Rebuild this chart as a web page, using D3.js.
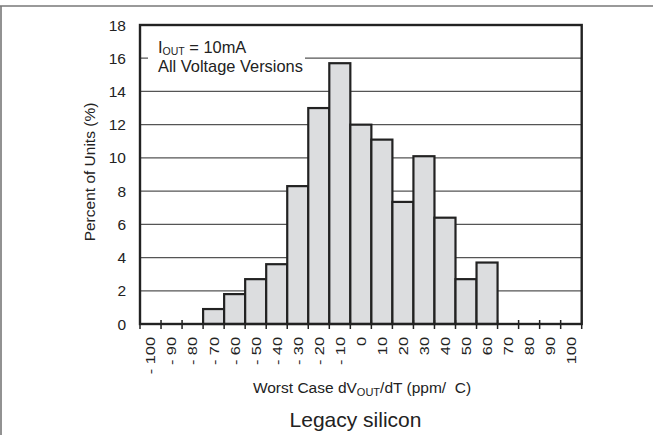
<!DOCTYPE html>
<html>
<head>
<meta charset="utf-8">
<script src="https://cdn.jsdelivr.net/npm/d3@7/dist/d3.min.js"></script>
<style>
html,body{margin:0;padding:0;background:#fff;}
svg{display:block;}
text{font-family:"Liberation Sans",Arial,Helvetica,sans-serif;fill:#222;}
</style>
</head>
<body>
<svg id="chart" width="653" height="435"></svg>
<script>
// Histogram bins (left edge, ppm/°C) and labels
const binLabels = [-100,-90,-80,-70,-60,-50,-40,-30,-20,-10,0,10,20,30,40,50,60,70,80,90,100];
const barBins   = [-70,-60,-50,-40,-30,-20,-10,0,10,20,30,40,50,60];
const barValues = [0.9,1.8,2.7,3.6,8.3,13.0,15.7,12.0,11.1,7.35,10.1,6.4,2.7,3.7];
const yTicks    = [0,2,4,6,8,10,12,14,16,18];

const svg = d3.select("#chart");
const m = {left:140, right:653-581.7, top:25, bottom:435-324};
const W = 653, H = 435;

// frame lines
svg.append("line").attr("x1",0).attr("x2",W).attr("y1",6).attr("y2",6)
  .attr("stroke","#777").attr("stroke-width",1.6);
svg.append("line").attr("x1",1).attr("x2",1).attr("y1",6).attr("y2",H)
  .attr("stroke","#777").attr("stroke-width",1.6);

const x = d3.scaleBand().domain(binLabels).range([m.left, W-m.right]).paddingInner(0).paddingOuter(0);
const y = d3.scaleLinear().domain([0,18]).range([H-m.bottom, m.top]);

// gridlines
svg.append("g").selectAll("line").data(yTicks.filter(d=>d>0 && d<18)).join("line")
  .attr("x1",m.left).attr("x2",W-m.right)
  .attr("y1",d=>y(d)).attr("y2",d=>y(d))
  .attr("stroke","#555").attr("stroke-width",1.3);

// annotation background
svg.append("rect").attr("x",148).attr("y",34).attr("width",157).attr("height",42).attr("fill","#fff");

// bars
svg.append("g").selectAll("rect").data(barBins.map((b,i)=>({b,v:barValues[i]}))).join("rect")
  .attr("x",d=>x(d.b)).attr("width",x.bandwidth())
  .attr("y",d=>y(d.v)).attr("height",d=>y(0)-y(d.v))
  .attr("fill","#dcdddf").attr("stroke","#222").attr("stroke-width",2.2);

// x ticks at band edges
const edges = binLabels.map(d=>x(d)).concat([W-m.right]);
svg.append("g").selectAll("line").data(edges).join("line")
  .attr("x1",d=>d).attr("x2",d=>d).attr("y1",y(0)-4).attr("y2",y(0)+5)
  .attr("stroke","#222").attr("stroke-width",1.5);

// plot border
svg.append("rect").attr("x",m.left).attr("y",m.top)
  .attr("width",W-m.right-m.left).attr("height",y(0)-m.top)
  .attr("fill","none").attr("stroke","#222").attr("stroke-width",2.4);

// y tick labels
svg.append("g").selectAll("text").data(yTicks).join("text")
  .attr("x",126).attr("y",d=>y(d)).attr("dy","0.36em")
  .attr("text-anchor","end").attr("font-size",15.5).text(d=>d);

// x tick labels (rotated)
svg.append("g").selectAll("text").data(binLabels).join("text")
  .attr("transform",d=>`translate(${x(d)+x.bandwidth()/2},337) rotate(-90) scale(1.2,1)`)
  .attr("dy","0.36em").attr("text-anchor","end").attr("font-size",13.6)
  .style("white-space","pre")
  .text(d=> d<0 ? "- " + Math.abs(d) : String(d));

// y axis title
svg.append("text").attr("transform","translate(95,172) rotate(-90)")
  .attr("text-anchor","middle").attr("font-size",15.5).text("Percent of Units (%)");

// x axis title
const xt = svg.append("text").attr("x",362).attr("y",392.5).attr("text-anchor","middle")
  .attr("font-size",15.5).style("white-space","pre");
xt.append("tspan").text("Worst Case dV");
xt.append("tspan").attr("font-size",11).attr("dy",3).text("OUT");
xt.append("tspan").attr("dy",-3).text("/dT (ppm/  C)");

// caption
svg.append("text").attr("x",355.5).attr("y",426.5).attr("text-anchor","middle")
  .attr("font-size",21).attr("fill","#111").text("Legacy silicon");

// annotation
const a1 = svg.append("text").attr("x",158).attr("y",52.5).attr("font-size",16.4);
a1.append("tspan").text("I");
a1.append("tspan").attr("font-size",10.5).attr("dy",2.5).text("OUT");
a1.append("tspan").attr("dy",-2.5).text(" = 10mA");
svg.append("text").attr("x",158).attr("y",72).attr("font-size",16.4).text("All Voltage Versions");
</script>
</body>
</html>
